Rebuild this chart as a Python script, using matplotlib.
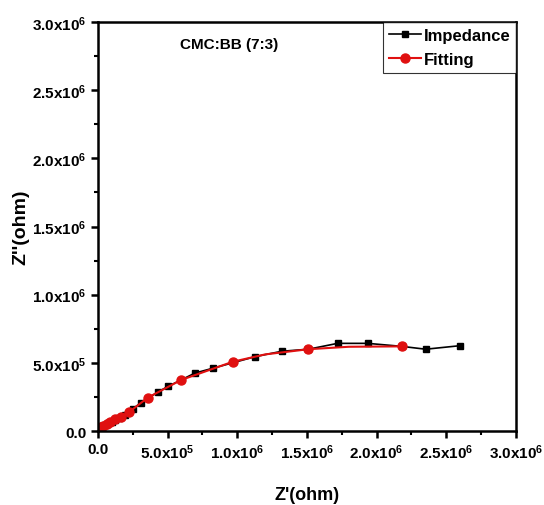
import matplotlib
matplotlib.use("Agg")
import matplotlib.pyplot as plt
from matplotlib.ticker import MultipleLocator, FuncFormatter

plt.rcParams['font.family'] = ['Liberation Sans', 'DejaVu Sans']
plt.rcParams['font.weight'] = 'bold'
plt.rcParams['mathtext.fontset'] = 'custom'
plt.rcParams['mathtext.rm'] = 'Liberation Sans:bold'
plt.rcParams['mathtext.default'] = 'rm'

# measured impedance (ohm)
z_real = [0.005e6, 0.015e6, 0.03e6, 0.05e6, 0.075e6, 0.098e6, 0.125e6, 0.153e6,
          0.194e6, 0.254e6, 0.306e6, 0.433e6, 0.505e6, 0.696e6, 0.823e6, 1.127e6,
          1.319e6, 1.51e6, 1.72e6, 1.936e6, 2.18e6, 2.352e6, 2.599e6]
z_imag = [0.018e6, 0.026e6, 0.034e6, 0.044e6, 0.056e6, 0.068e6, 0.082e6, 0.095e6,
          0.115e6, 0.165e6, 0.205e6, 0.288e6, 0.328e6, 0.425e6, 0.46e6, 0.545e6,
          0.585e6, 0.60e6, 0.643e6, 0.643e6, 0.621e6, 0.60e6, 0.626e6]

# fitted curve
fit_real = [0.004e6, 0.02e6, 0.04e6, 0.065e6, 0.09e6, 0.125e6, 0.165e6, 0.225e6,
            0.357e6, 0.596e6, 0.967e6, 1.2e6, 1.51e6, 1.8e6, 2.18e6]
fit_imag = [0.018e6, 0.03e6, 0.04e6, 0.052e6, 0.065e6, 0.085e6, 0.105e6, 0.14e6,
            0.244e6, 0.374e6, 0.508e6, 0.562e6, 0.60e6, 0.618e6, 0.621e6]
fit_marks = [0, 1, 2, 3, 4, 5, 6, 7, 8, 9, 10, 12, 14]

fig = plt.figure(figsize=(5.44, 5.06), dpi=100)
ax = fig.add_axes([0.180, 0.1462, 0.7685, 0.8083])

ax.plot(z_real, z_imag, '-s', color='black', lw=1.2, ms=5, label='Impedance')
ax.plot(fit_real, fit_imag, '-o', color='#e01010', lw=1.5, ms=6.5,
        markevery=fit_marks, label='Fitting')

ax.set_xlim(0, 3.0e6)
ax.set_ylim(0, 3.0e6)


def sci_fmt(v, pos):
    if v == 0:
        return '0.0'
    exp = int(f'{v:e}'.split('e')[1])
    mant = v / 10 ** exp
    return f'{mant:.1f}x10$^{{{exp}}}$'


for axis in (ax.xaxis, ax.yaxis):
    axis.set_major_locator(MultipleLocator(5e5))
    axis.set_minor_locator(MultipleLocator(2.5e5))
    axis.set_major_formatter(FuncFormatter(sci_fmt))

ax.tick_params(which='major', direction='out', length=5, width=1.8, labelsize=11, pad=3)
ax.tick_params(which='minor', direction='out', length=3, width=1.5)
for s in ax.spines.values():
    s.set_linewidth(1.8)

ax.set_xlabel("Z'(ohm)", fontsize=13, fontweight='bold', labelpad=18)
ax.set_ylabel("Z''(ohm)", fontsize=14, fontweight='bold', labelpad=2)

ax.text(0.313, 0.946, 'CMC:BB (7:3)', transform=ax.transAxes, ha='center', va='center',
        fontsize=11, fontweight='bold')

leg = ax.legend(loc='upper right', fontsize=12, frameon=True, fancybox=False,
                borderaxespad=0, handlelength=1.9, handletextpad=0.15,
                borderpad=0.35, labelspacing=0.55)
leg.get_frame().set_edgecolor('black')
leg.get_frame().set_linewidth(0.8)

fig.savefig('out.png', dpi=100)
